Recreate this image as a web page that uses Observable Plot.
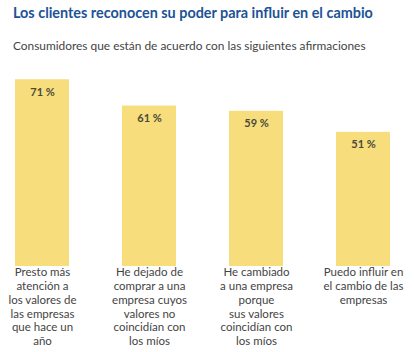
<!DOCTYPE html>
<html><head><meta charset="utf-8">
<script src="https://cdn.jsdelivr.net/npm/d3@7"></script>
<script src="https://cdn.jsdelivr.net/npm/@observablehq/plot@0.6"></script>
<style>
body{margin:0;background:#fff;font-family:Lato,sans-serif;width:414px;height:352px;position:relative;overflow:hidden}
#title{position:absolute;left:13px;top:4px;font-size:14.4px;line-height:17px;font-weight:700;color:#1d5296;white-space:nowrap}
#subtitle{position:absolute;left:13px;top:39px;font-size:11.9px;line-height:14px;color:#444;white-space:nowrap}
#chart{position:absolute;left:0;top:64px}
</style></head><body>
<div id="title">Los clientes reconocen su poder para influir en el cambio</div>
<div id="subtitle">Consumidores que están de acuerdo con las siguientes afirmaciones</div>
<div id="chart"></div>
<script>
const categories = [
  "Presto más atención a los valores de las empresas que hace un año",
  "He dejado de comprar a una empresa cuyos valores no coincidían con los míos",
  "He cambiado a una empresa porque sus valores coincidían con los míos",
  "Puedo influir en el cambio de las empresas"
];
const values = [71, 61, 59, 51];
const tickLabels = [
  "Presto más\natención a\nlos valores de\nlas empresas\nque hace un\naño",
  "He dejado de\ncomprar a una\nempresa cuyos\nvalores no\ncoincidían con\nlos míos",
  "He cambiado\na una empresa\nporque\nsus valores\ncoincidían con\nlos míos",
  "Puedo influir en\nel cambio de las\nempresas"
];
const data = categories.map((c, i) => ({category: c, value: values[i]}));
const chart = Plot.plot({
  width: 414, height: 288,
  marginTop: 10, marginBottom: 86, marginLeft: 14, marginRight: 24,
  style: {fontFamily: "Lato, sans-serif", background: "#fff", color: "#444"},
  x: {domain: categories, padding: 0.5, paddingOuter: 0},
  y: {domain: [0, 73], axis: null},
  marks: [
    Plot.barY(data, {x: "category", y: "value", fill: "#f7dd7c"}),
    Plot.text(data, {x: "category", y: "value", text: d => `${d.value} %`, dy: 12.5, fontWeight: 700, fontSize: 11, fill: "#4a4a3a"}),
    Plot.axisX({tickSize: 0, tickPadding: 0, fontSize: 11.5, lineHeight: 1.2, label: null,
      tickFormat: d => tickLabels[categories.indexOf(d)]})
  ]
});
document.getElementById("chart").append(chart);
</script>
</body></html>
